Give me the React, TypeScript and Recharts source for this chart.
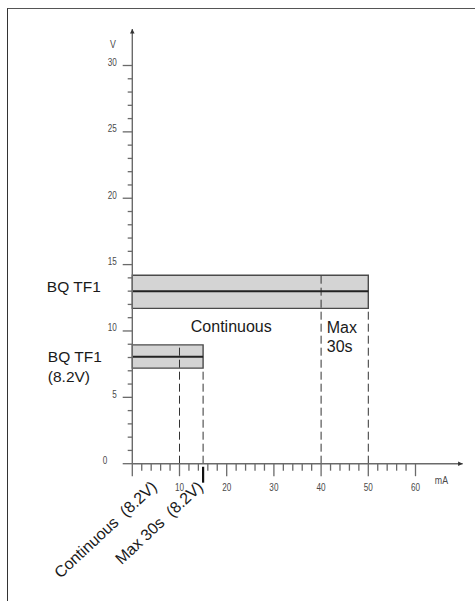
import React from 'react';
import {
  ComposedChart,
  XAxis,
  YAxis,
  Line,
  ReferenceArea,
  ReferenceLine,
  ReferenceDot,
} from 'recharts';

// ---- axis ticks ----
const currentTicks = [0, 2, 4, 6, 8, 10, 12, 14, 16, 18, 20, 22, 24, 26, 28, 30, 32, 34, 36, 38, 40, 42, 44, 46, 48, 50, 52, 54, 56, 58, 60];
const voltageTicks = [0, 1, 2, 3, 4, 5, 6, 7, 8, 9, 10, 11, 12, 13, 14, 15, 16, 17, 18, 19, 20, 21, 22, 23, 24, 25, 26, 27, 28, 29, 30];
const currentLabelTicks = [10, 20, 30, 40, 50, 60];
const voltageLabelTicks = [0, 5, 10, 15, 20, 25, 30];

// ---- bands (tolerance boxes) ----
const bandMaxCurrent = [50, 15];
const bandLowVoltage = [11.7, 7.2];
const bandNominalVoltage = [13, 8.05];
const bandHighVoltage = [14.2, 8.95];

// ---- dashed limit lines ----
const limitCurrents = [10, 15, 40, 50];
const limitTopVoltages = [8.95, 7.2, 14.2, 11.7];

// ---- annotations ----
const annotationTexts = ['BQ TF1', 'BQ TF1', '(8.2V)', 'Continuous', 'Max', '30s'];
const annotationCurrent = [-18.1, -17.9, -17.9, 12.4, 41.2, 41.2];
const annotationVoltage = [12.94, 7.66, 6.16, 9.92, 9.85, 8.42];
const annotationSizes = [15.5, 15.5, 15.5, 16, 16, 16];

const rotatedTexts = ['Continuous  (8.2V)', 'Max 30s  (8.2V)'];
const rotatedEndCurrent = [5.44, 15.2];
const rotatedEndVoltage = [-1.83, -1.85];

const axisUnitV = 'V';
const axisUnitmA = 'mA';

const MAIN_FONT = "'Liberation Sans', Arial, Helvetica, sans-serif";
const TICK_FONT = "'Liberation Sans', Arial, sans-serif";
const AXIS_COLOR = '#6a6a6a';
const TICK_TEXT = '#4a4a4a';

const bandLines = bandMaxCurrent.map((maxI, i) => [
  { ma: 0, v: bandNominalVoltage[i] },
  { ma: maxI, v: bandNominalVoltage[i] },
]);

const NarrowText = ({ x, y, anchor, size, children }: any) => (
  <text
    x={x}
    y={y}
    textAnchor={anchor}
    fontFamily={TICK_FONT}
    fontSize={size}
    fill={TICK_TEXT}
    transform={`translate(${x},0) scale(0.8,1) translate(${-x},0)`}
  >
    {children}
  </text>
);

const XTick = (props: any) => {
  const { x, y, payload } = props;
  const v = payload.value;
  const major = v % 10 === 0;
  return (
    <g>
      <line x1={x} x2={x} y1={y} y2={y + (major ? 12.5 : 7)} stroke={AXIS_COLOR} strokeWidth={1.3} />
      {currentLabelTicks.includes(v) && (
        <NarrowText x={x} y={y + 27} anchor="middle" size={10.2}>
          {v}
        </NarrowText>
      )}
    </g>
  );
};

const YTick = (props: any) => {
  const { x, y, payload } = props;
  const v = payload.value;
  const major = v % 5 === 0;
  return (
    <g>
      <line x1={x - (major ? 9.6 : 4.6)} x2={x} y1={y} y2={y} stroke={AXIS_COLOR} strokeWidth={1.3} />
      {voltageLabelTicks.includes(v) && (
        <NarrowText x={v === 0 ? x - 25 : x - 15.6} y={y + 0.5} anchor="end" size={10.2}>
          {v}
        </NarrowText>
      )}
    </g>
  );
};

const textShape = (txt: string, size: number, anchor: string, rotate = 0) =>
  (p: any) => (
    <text
      x={p.cx}
      y={p.cy}
      textAnchor={anchor}
      fontFamily={MAIN_FONT}
      fontSize={size}
      fill="#1a1a1a"
      style={{ whiteSpace: 'pre' }}
      transform={rotate ? `rotate(${rotate}, ${p.cx}, ${p.cy})` : undefined}
    >
      {txt}
    </text>
  );

const unitShape = (txt: string, anchor: string) => (p: any) => (
  <NarrowText x={p.cx} y={p.cy} anchor={anchor} size={11}>
    {txt}
  </NarrowText>
);

export default function App() {
  return (
    <div style={{ position: 'absolute', left: 0, top: 0, width: 475, height: 601 }}>
      <div
        style={{
          position: 'absolute',
          left: 7,
          top: 8,
          width: 468,
          height: 593,
          boxSizing: 'border-box',
          borderLeft: '1.6px solid #333',
          borderTop: '1.4px solid #555',
        }}
      />
      <div style={{ position: 'absolute', left: 0, top: 0 }}>
        <ComposedChart
          width={475}
          height={601}
          margin={{ top: 29, right: 12.3, bottom: 107.3, left: 0 }}
        >
          <defs>
            <marker
              id="axisArrow"
              viewBox="0 0 10 10"
              refX="10"
              refY="5"
              markerWidth="6"
              markerHeight="4.6"
              markerUnits="userSpaceOnUse"
              orient="auto-start-reverse"
            >
              <path d="M0,0 L10,5 L0,10 z" fill="#333" />
            </marker>
          </defs>
          <XAxis
            type="number"
            dataKey="ma"
            domain={[0, 70]}
            allowDataOverflow
            ticks={currentTicks}
            interval={0}
            height={30}
            tickSize={0}
            tickMargin={0}
            tickLine={false}
            tick={<XTick />}
            axisLine={{ stroke: AXIS_COLOR, strokeWidth: 1.4, markerEnd: 'url(#axisArrow)' }}
          />
          <YAxis
            type="number"
            dataKey="v"
            domain={[0, 32.75]}
            allowDataOverflow
            ticks={voltageTicks}
            interval={0}
            width={132.3}
            tickSize={0}
            tickMargin={0}
            tickLine={false}
            tick={<YTick />}
            axisLine={{ stroke: AXIS_COLOR, strokeWidth: 1.4, markerStart: 'url(#axisArrow)' }}
          />

          {bandMaxCurrent.map((maxI, i) => (
            <ReferenceArea
              key={`band-${i}`}
              x1={0}
              x2={maxI}
              y1={bandLowVoltage[i]}
              y2={bandHighVoltage[i]}
              fill="#d4d4d4"
              fillOpacity={1}
              stroke="#4a4a4a"
              strokeWidth={1.4}
              ifOverflow="visible"
            />
          ))}

          {limitCurrents.map((c, i) => (
            <ReferenceLine
              key={`lim-${i}`}
              segment={[
                { x: c, y: 0 },
                { x: c, y: limitTopVoltages[i] },
              ]}
              stroke="#333"
              strokeWidth={1}
              strokeDasharray="8 4"
              ifOverflow="visible"
            />
          ))}

          <ReferenceLine
            segment={[
              { x: 15, y: -0.23 },
              { x: 15, y: -1.43 },
            ]}
            stroke="#111"
            strokeWidth={2.2}
            ifOverflow="visible"
          />

          {bandLines.map((d, i) => (
            <Line
              key={`center-${i}`}
              data={d}
              dataKey="v"
              type="linear"
              stroke="#222"
              strokeWidth={2}
              dot={false}
              activeDot={false}
              isAnimationActive={false}
            />
          ))}

          {annotationTexts.map((t, i) => (
            <ReferenceDot
              key={`ann-${i}`}
              x={annotationCurrent[i]}
              y={annotationVoltage[i]}
              r={1}
              ifOverflow="visible"
              shape={textShape(t, annotationSizes[i], 'start')}
            />
          ))}

          {rotatedTexts.map((t, i) => (
            <ReferenceDot
              key={`rot-${i}`}
              x={rotatedEndCurrent[i]}
              y={rotatedEndVoltage[i]}
              r={1}
              ifOverflow="visible"
              shape={textShape(t, 16, 'end', -43)}
            />
          ))}

          <ReferenceDot x={-4.1} y={31.3} r={1} ifOverflow="visible" shape={unitShape(axisUnitV, 'middle')} />
          <ReferenceDot x={64.1} y={-1.53} r={1} ifOverflow="visible" shape={unitShape(axisUnitmA, 'start')} />
        </ComposedChart>
      </div>
    </div>
  );
}
